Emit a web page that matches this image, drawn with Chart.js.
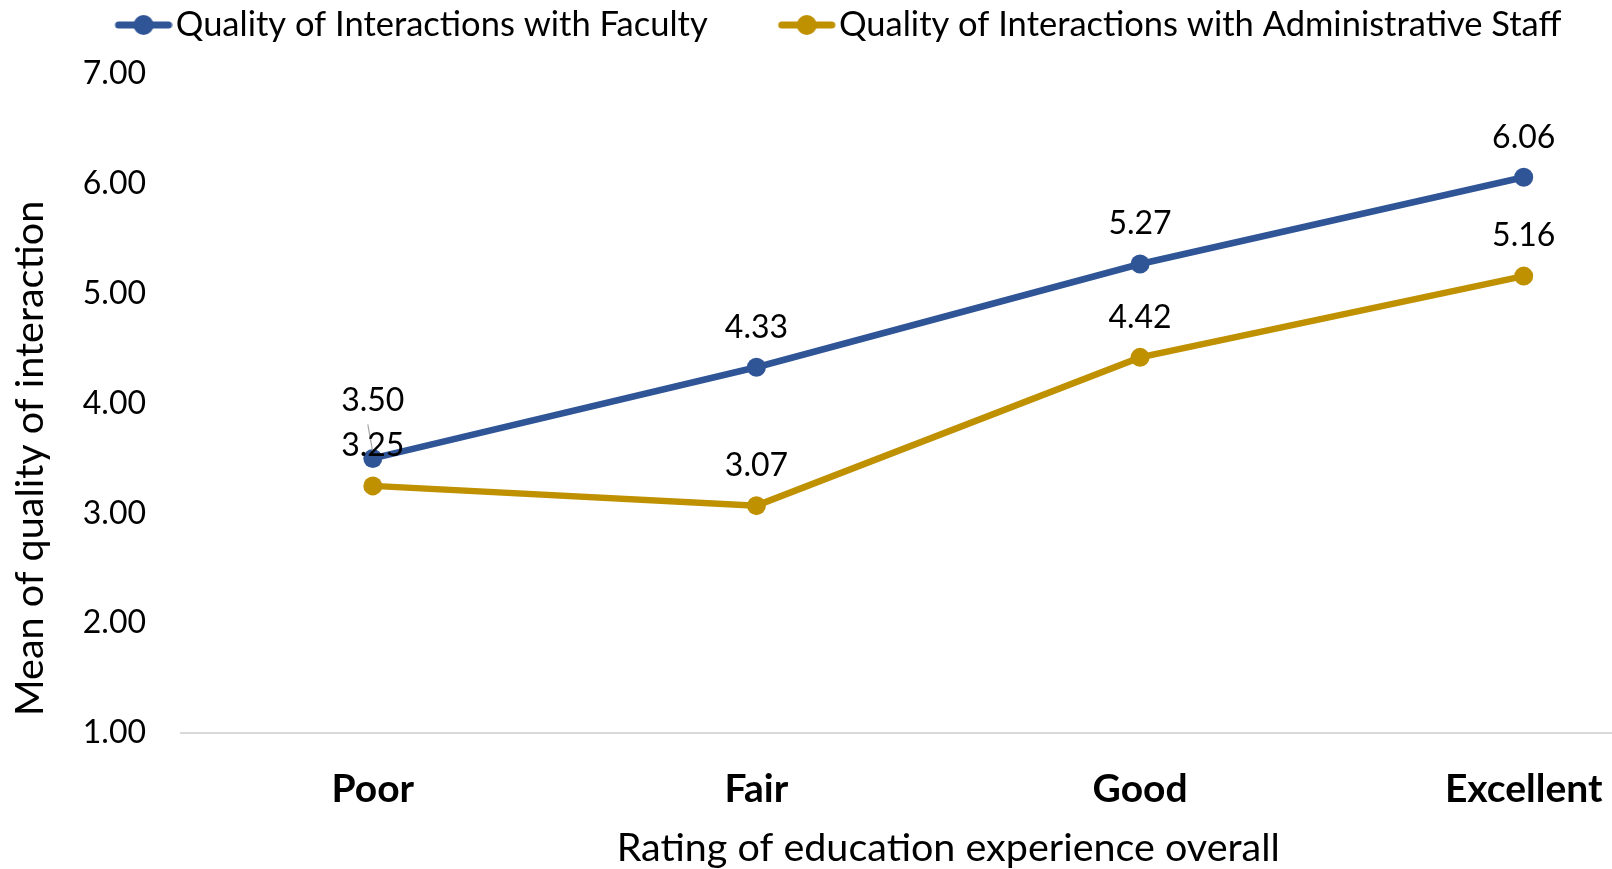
<!DOCTYPE html>
<html>
<head>
<meta charset="utf-8">
<script src="https://cdn.jsdelivr.net/npm/chart.js@4.4.1/dist/chart.umd.min.js"></script>
<style>
  html, body { margin: 0; padding: 0; background: #ffffff; overflow: hidden; }
  #wrap { position: relative; width: 1725px; height: 869px; }
</style>
</head>
<body>
<div id="wrap"><canvas id="c"></canvas></div>
<script>
// ---- data ----
const categories = ['Poor', 'Fair', 'Good', 'Excellent'];
const facultyLabel = 'Quality of Interactions with Faculty';
const facultyValues = [3.50, 4.33, 5.27, 6.06];
const staffLabel = 'Quality of Interactions with Administrative Staff';
const staffValues = [3.25, 3.07, 4.42, 5.16];
const yTicks = [1, 2, 3, 4, 5, 6, 7];
const xTitle = 'Rating of education experience overall';
const yTitle = 'Mean of quality of interaction';

// ---- style ----
const BLUE = '#2F5597';
const GOLD = '#BF9000';
const FONT = 'Lato';
const LEGEND_FONT = 34.5;
const LEGEND_PAD = 10;
const Y_TITLE_LIFT = 17;

function legendMarker(color) {
  const c = document.createElement('canvas');
  c.width = 132; c.height = 22;
  const g = c.getContext('2d');
  g.strokeStyle = color; g.lineWidth = 7; g.lineCap = 'round';
  g.beginPath(); g.moveTo(78, 11); g.lineTo(128, 11); g.stroke();
  g.fillStyle = color;
  g.beginPath(); g.arc(103, 11, 10, 0, Math.PI * 2); g.fill();
  return c;
}

const legendPlace = {
  id: 'legendPlace',
  beforeLayout(chart) {
    const lg = chart.legend;
    if (lg && !lg._wrapped) {
      const fit = lg.fit;
      lg.fit = function () { fit.call(this); this.height = 74; };
      lg._wrapped = true;
    }
  },
  afterLayout(chart) {
    const lg = chart.legend;
    lg.top = 25 - LEGEND_PAD - LEGEND_FONT / 2;
    const dx = 838 - chart.width / 2 - 30;
    lg.left += dx; lg.right += dx;
    // lift the y-axis title (only its drawing uses scale.bottom after configure)
    chart.scales.y.bottom -= Y_TITLE_LIFT;
  }
};

const valueLabels = {
  id: 'valueLabels',
  afterDatasetsDraw(chart) {
    const ctx = chart.ctx;
    ctx.save();
    ctx.font = '32px ' + FONT;
    ctx.fillStyle = '#000000';
    ctx.textAlign = 'center';
    ctx.textBaseline = 'middle';
    chart.data.datasets.forEach((ds, di) => {
      chart.getDatasetMeta(di).data.forEach((pt, i) => {
        const lifted = (di === 0 && i === 0);
        const raise = lifted ? 58 : 40;
        if (lifted) {
          ctx.strokeStyle = '#a6a6a6'; ctx.lineWidth = 1.2;
          ctx.beginPath(); ctx.moveTo(pt.x - 5, pt.y - 34); ctx.lineTo(pt.x, pt.y - 6); ctx.stroke();
        }
        ctx.fillText(ds.data[i].toFixed(2), pt.x, pt.y - raise);
      });
    });
    ctx.restore();
  }
};

Chart.defaults.font.family = FONT;
Chart.defaults.color = '#000000';

function build() {
  new Chart(document.getElementById('c'), {
    type: 'line',
    data: {
      labels: categories,
      datasets: [
        { label: facultyLabel, data: facultyValues, borderColor: BLUE, backgroundColor: BLUE,
          pointBackgroundColor: BLUE, borderWidth: 6.5, pointRadius: 9.5, pointHoverRadius: 9.5,
          pointBorderWidth: 0, tension: 0, _marker: legendMarker(BLUE) },
        { label: staffLabel, data: staffValues, borderColor: GOLD, backgroundColor: GOLD,
          pointBackgroundColor: GOLD, borderWidth: 6.5, pointRadius: 9.5, pointHoverRadius: 9.5,
          pointBorderWidth: 0, tension: 0, _marker: legendMarker(GOLD) }
      ]
    },
    options: {
      responsive: true,
      maintainAspectRatio: false,
      animation: false,
      layout: { padding: 0 },
      plugins: {
        tooltip: { enabled: false },
        legend: {
          position: 'top',
          labels: {
            font: { size: LEGEND_FONT },
            color: '#000000',
            usePointStyle: true,
            pointStyleWidth: 104,
            boxHeight: 22,
            padding: LEGEND_PAD,
            generateLabels(chart) {
              const items = Chart.defaults.plugins.legend.labels.generateLabels(chart);
              items.forEach(it => { it.pointStyle = chart.data.datasets[it.datasetIndex]._marker; });
              return items;
            }
          }
        }
      },
      scales: {
        x: {
          type: 'category',
          offset: true,
          grid: { display: false, drawTicks: false },
          border: { display: true, color: '#d9d9d9', width: 2 },
          ticks: { font: { size: 39, weight: 'bold' }, color: '#000000', padding: 33 },
          title: { display: true, text: xTitle, font: { size: 39.5, lineHeight: 1.05 }, color: '#000000', padding: { top: 0, bottom: 0 } },
          afterFit(s) { s.height = 136; }
        },
        y: {
          min: 1, max: 7,
          afterBuildTicks(s) { s.ticks = yTicks.map(v => ({ value: v })); },
          grid: { display: false, drawTicks: false },
          border: { display: false },
          ticks: { font: { size: 32 }, color: '#000000', padding: 35, callback: v => Number(v).toFixed(2) },
          title: { display: true, text: yTitle, align: 'start', font: { size: 39.5, lineHeight: 1.05 }, color: '#000000', padding: { top: 10, bottom: 0 } },
          afterFit(s) { s.width = 181; }
        }
      }
    },
    plugins: [legendPlace, valueLabels]
  });
}

if (document.fonts && document.fonts.load) {
  Promise.all([document.fonts.load('32px Lato'), document.fonts.load('bold 32px Lato')]).then(build, build);
} else { build(); }
</script>
</body>
</html>
